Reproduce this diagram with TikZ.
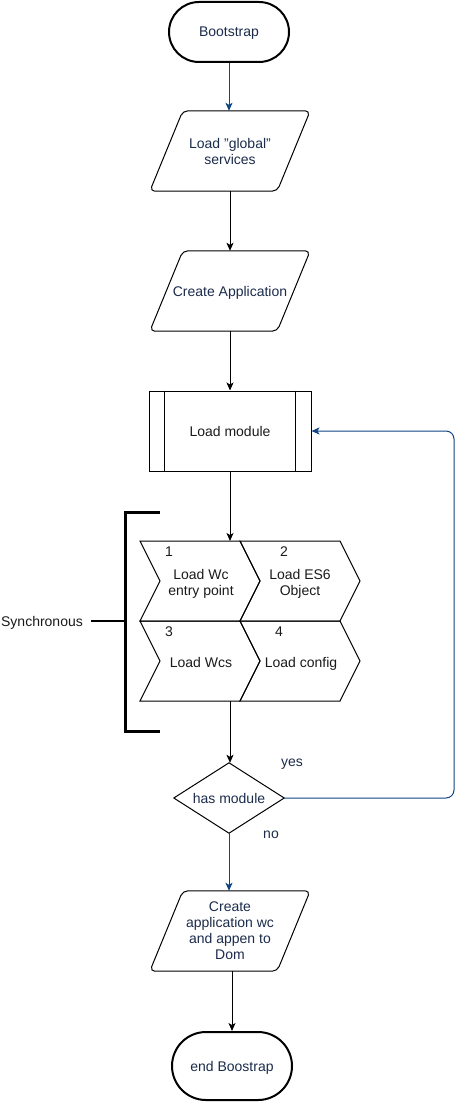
\documentclass[tikz,border=0pt]{standalone}
\usepackage{fontspec}
\setmainfont{Liberation Sans}
\usetikzlibrary{arrows.meta}
\definecolor{navy}{HTML}{1B2B4B}
\definecolor{linkblue}{HTML}{0F4583}
\definecolor{ink}{HTML}{1A1A1A}
\newcommand\paradraw[1]{\draw[para] ([xshift=33pt]#1.north west) -- (#1.north east) -- ([xshift=-33pt]#1.south east) -- (#1.south west) -- cycle;}
\begin{document}
\begin{tikzpicture}[x=1pt,y=-1pt,
  every node/.style={font=\fontsize{14}{16}\selectfont, inner sep=0pt, text depth=0pt},
  term/.style={draw, line width=2pt, rounded corners=30pt, minimum width=120pt, minimum height=60pt, text=navy},
  io/.style={minimum width=160pt, minimum height=80pt, align=center, text=navy},
  para/.style={draw, line width=1pt, rounded corners=5pt},
  flow/.style={-{Stealth[length=8pt,width=7pt,inset=2pt]}, line width=1pt},
  bflow/.style={flow, draw=linkblue},
  lbl/.style={text=navy},
  dlbl/.style={text=ink, align=center},
  chev/.style={draw, line width=1pt},
  brk/.style={line width=3pt}]
\useasboundingbox (0,0) rectangle (463,1102);
% nodes
\node[term] (boot) at (229,32) {Bootstrap};
\node[io] (glob) at (230,151) {Load "global"\\services};
\paradraw{glob}
\node[io] (app) at (230,291) {Create Application};
\paradraw{app}
\node[draw, line width=1pt, minimum width=162pt, minimum height=80pt, text=ink] (mod) at (230,431) {Load module};
\draw[line width=1pt] ([xshift=16pt]mod.north west) -- ([xshift=16pt]mod.south west);
\draw[line width=1pt] ([xshift=-16pt]mod.north east) -- ([xshift=-16pt]mod.south east);
% chevrons
\draw[chev] (140,541) -- (240,541) -- (260,581) -- (240,621) -- (140,621) -- (160,581) -- cycle;
\draw[chev] (240,541) -- (340,541) -- (360,581) -- (340,621) -- (240,621) -- (260,581) -- cycle;
\draw[chev] (140,621) -- (240,621) -- (260,661) -- (240,701) -- (140,701) -- (160,661) -- cycle;
\draw[chev] (240,621) -- (340,621) -- (360,661) -- (340,701) -- (240,701) -- (260,661) -- cycle;
\node[dlbl] (n1) at (169,552) {1};
\node[dlbl] (n2) at (284,552) {2};
\node[dlbl] (n3) at (169,632) {3};
\node[dlbl] (n4) at (279,632) {4};
\node[dlbl] (c1) at (201,582) {Load Wc\\entry point};
\node[dlbl] (c2) at (300,582) {Load ES6\\Object};
\node[dlbl] (c3) at (201,662) {Load Wcs};
\node[dlbl] (c4) at (301,662) {Load config};
\coordinate (chtop) at (230,541);
\coordinate (chbot) at (230,701);
% bracket
\draw[brk] (160,512) -- (125,512) -- (125,731) -- (160,731);
\node[dlbl] (sync) at (42,621) {Synchronous};
\draw[line width=2pt] ([xshift=8pt]sync.east) -- (125,621);
% decision
\node[minimum width=110pt, minimum height=70pt, text=navy] (dec) at (229,798) {has module};
\draw[line width=1pt] (dec.north) -- (dec.east) -- (dec.south) -- (dec.west) -- cycle;
\node[lbl] (yes) at (292,763) {yes};
\node[lbl] (no) at (271,835) {no};
\node[io] (crt) at (230,931) {Create\\application wc\\and appen to\\Dom};
\paradraw{crt}
\node[term, minimum height=68pt, rounded corners=34pt] (endb) at (232,1066) {end Boostrap};
\coordinate (loopx) at (454,0);
% connectors
\draw[bflow] (boot.south) -- (glob.north -| boot.south);
\draw[flow] (glob.south) -- (app.north);
\draw[flow] (app.south) -- (mod.north);
\draw[flow] (mod.south) -- (chtop);
\draw[flow] (chbot) -- (dec.north -| chbot);
\draw[bflow] (dec.south) -- (crt.north -| dec.south);
\draw[bflow, rounded corners=8pt] (dec.east) -- (dec.east -| loopx) -- (loopx |- mod.east) -- (mod.east);
\draw[flow] (crt.south -| endb.north) -- (endb.north);
\end{tikzpicture}
\end{document}
